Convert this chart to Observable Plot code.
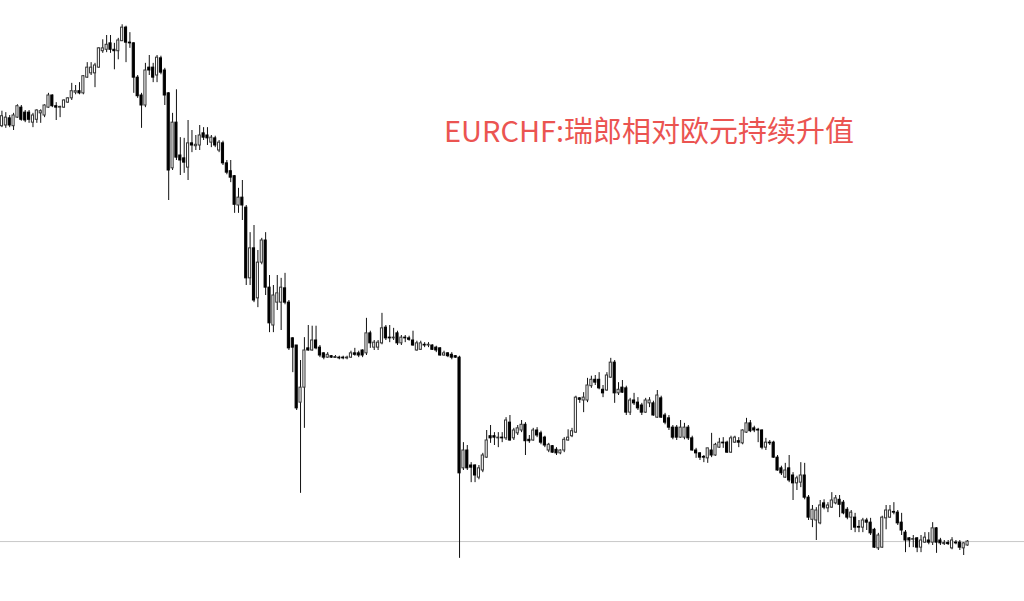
<!DOCTYPE html>
<html>
<head>
<meta charset="utf-8">
<script src="https://cdn.jsdelivr.net/npm/d3@7"></script>
<script src="https://cdn.jsdelivr.net/npm/@observablehq/plot@0.6"></script>
<style>
  html, body { margin: 0; padding: 0; background: #fff; }
  #wrap { position: relative; width: 1024px; height: 601px; overflow: hidden; }
  #title { position: absolute; left: 444px; top: 113px; font-family: "Noto Sans CJK SC", "Noto Sans", sans-serif; font-size: 29px; line-height: 32px; color: #eb5451; white-space: nowrap; }
</style>
</head>
<body>
<div id="wrap"><div id="title">EURCHF:瑞郎相对欧元持续升值</div></div>
<script>
const title = "EURCHF:瑞郎相对欧元持续升值";
// Monthly EURCHF candles, starting 2005-03
const open = [
1.524,1.525,1.535,1.524,1.536,1.550,1.543,1.543,1.529,1.533,
1.542,1.539,1.550,1.567,1.552,1.550,1.550,1.557,1.563,1.571,
1.573,1.570,1.592,1.598,1.598,1.606,1.629,1.631,1.640,1.631,
1.629,1.643,1.662,1.641,1.640,1.592,1.567,1.553,1.606,1.606,
1.595,1.619,1.602,1.570,1.465,1.529,1.483,1.479,1.466,1.500,
1.496,1.497,1.514,1.511,1.501,1.507,1.490,1.500,1.472,1.461,
1.454,1.413,1.424,1.410,1.311,1.353,1.283,1.333,1.364,1.298,
1.245,1.277,1.277,1.297,1.277,1.227,1.217,1.137,1.158,1.213,
1.210,1.224,1.214,1.206,1.200,1.202,1.1995,1.200,1.200,1.199,
1.200,1.206,1.206,1.210,1.206,1.234,1.214,1.214,1.220,1.242,
1.228,1.227,1.234,1.220,1.228,1.227,1.224,1.210,1.211,1.218,
1.217,1.217,1.214,1.213,1.203,1.206,1.204,1.202,1.200,1.045,
1.070,1.049,1.049,1.032,1.042,1.060,1.090,1.090,1.087,1.088,
1.087,1.109,1.087,1.094,1.098,1.106,1.085,1.084,1.098,1.094,
1.088,1.070,1.076,1.071,1.066,1.070,1.084,1.090,1.095,1.143,
1.140,1.140,1.160,1.169,1.169,1.155,1.154,1.172,1.193,1.150,
1.158,1.157,1.123,1.140,1.137,1.133,1.123,1.136,1.136,1.116,
1.143,1.119,1.115,1.102,1.102,1.088,1.088,1.102,1.087,1.070,
1.066,1.061,1.059,1.070,1.063,1.074,1.081,1.081,1.067,1.081,
1.083,1.080,1.095,1.108,1.101,1.099,1.098,1.074,1.081,1.081,
1.060,1.045,1.032,1.045,1.035,1.024,1.025,1.035,1.004,0.973,
0.972,0.968,0.996,0.989,0.990,0.996,1.001,0.997,0.987,0.976,
0.976,0.963,0.962,0.972,0.969,0.959,0.933,0.934,0.975,0.976,
0.984,0.983,0.969,0.955,0.947,0.945,0.947,0.934,0.941,0.944,
0.941,0.961,0.944,0.939,0.9405,0.933,0.941,0.941,0.933,0.937
];
const high = [
1.545,1.543,1.539,1.542,1.554,1.553,1.546,1.546,1.542,1.547,
1.547,1.554,1.570,1.568,1.557,1.552,1.561,1.564,1.584,1.581,
1.585,1.595,1.613,1.613,1.612,1.634,1.645,1.651,1.651,1.640,
1.647,1.666,1.664,1.655,1.641,1.595,1.570,1.612,1.623,1.612,
1.623,1.622,1.605,1.571,1.542,1.575,1.508,1.507,1.532,1.518,
1.511,1.525,1.522,1.522,1.511,1.510,1.504,1.503,1.476,1.476,
1.455,1.437,1.448,1.413,1.375,1.385,1.350,1.367,1.375,1.315,
1.301,1.315,1.311,1.318,1.280,1.228,1.217,1.196,1.228,1.245,
1.244,1.244,1.217,1.207,1.207,1.203,1.203,1.202,1.202,1.202,
1.209,1.213,1.209,1.211,1.255,1.237,1.224,1.224,1.262,1.245,
1.245,1.241,1.237,1.231,1.231,1.230,1.237,1.223,1.223,1.221,
1.221,1.218,1.216,1.214,1.209,1.207,1.207,1.203,1.202,1.081,
1.077,1.053,1.050,1.049,1.066,1.098,1.105,1.095,1.095,1.095,
1.116,1.119,1.101,1.105,1.112,1.109,1.091,1.101,1.102,1.097,
1.090,1.080,1.077,1.074,1.071,1.088,1.099,1.101,1.146,1.144,
1.151,1.171,1.174,1.175,1.179,1.161,1.179,1.199,1.196,1.165,
1.168,1.160,1.143,1.150,1.144,1.136,1.143,1.144,1.139,1.154,
1.146,1.122,1.119,1.105,1.105,1.112,1.108,1.105,1.090,1.073,
1.067,1.063,1.073,1.094,1.080,1.087,1.088,1.083,1.090,1.090,
1.088,1.099,1.115,1.112,1.104,1.101,1.099,1.087,1.084,1.083,
1.063,1.048,1.052,1.063,1.039,1.034,1.053,1.052,1.007,0.993,
0.990,1.000,1.001,0.997,1.011,1.007,1.007,1.000,0.990,0.986,
0.982,0.972,0.975,0.975,0.975,0.961,0.954,0.978,0.993,0.993,
0.997,0.986,0.982,0.958,0.948,0.951,0.948,0.951,0.955,0.955,
0.969,0.962,0.947,0.944,0.944,0.948,0.944,0.944,0.941,0.944
];
const low = [
1.522,1.521,1.522,1.518,1.535,1.531,1.529,1.528,1.522,1.528,
1.528,1.536,1.549,1.550,1.532,1.536,1.549,1.556,1.560,1.568,
1.568,1.568,1.591,1.595,1.578,1.605,1.626,1.627,1.626,1.603,
1.617,1.643,1.613,1.633,1.570,1.563,1.521,1.550,1.595,1.585,
1.585,1.596,1.553,1.420,1.462,1.476,1.455,1.458,1.448,1.487,
1.490,1.490,1.504,1.497,1.494,1.494,1.487,1.469,1.456,1.445,
1.402,1.402,1.392,1.301,1.301,1.277,1.270,1.330,1.287,1.235,
1.235,1.266,1.238,1.274,1.210,1.179,1.126,1.010,1.101,1.209,
1.209,1.211,1.200,1.197,1.199,1.199,1.199,1.197,1.197,1.197,
1.199,1.202,1.200,1.200,1.203,1.213,1.210,1.210,1.218,1.224,
1.221,1.224,1.217,1.217,1.221,1.223,1.216,1.209,1.210,1.214,
1.214,1.210,1.207,1.202,1.202,1.200,1.197,1.199,0.919,1.042,
1.042,1.025,1.025,1.029,1.039,1.059,1.080,1.077,1.074,1.081,
1.084,1.083,1.084,1.091,1.095,1.063,1.080,1.083,1.088,1.078,
1.074,1.067,1.066,1.063,1.064,1.067,1.083,1.088,1.094,1.136,
1.123,1.137,1.157,1.161,1.155,1.144,1.153,1.171,1.136,1.147,
1.150,1.119,1.119,1.133,1.126,1.119,1.122,1.130,1.118,1.115,
1.115,1.106,1.098,1.085,1.084,1.087,1.085,1.084,1.069,1.059,
1.056,1.053,1.052,1.060,1.062,1.073,1.073,1.066,1.066,1.080,
1.074,1.078,1.094,1.095,1.095,1.081,1.071,1.070,1.077,1.059,
1.041,1.035,1.031,1.025,1.000,1.014,1.018,1.001,0.972,0.962,
0.944,0.966,0.987,0.983,0.989,0.994,0.976,0.980,0.973,0.958,
0.955,0.955,0.955,0.958,0.951,0.933,0.930,0.933,0.959,0.975,
0.980,0.965,0.951,0.927,0.934,0.934,0.927,0.927,0.940,0.938,
0.937,0.926,0.937,0.937,0.937,0.931,0.938,0.930,0.923,0.936
];
const close = [
1.538,1.536,1.525,1.539,1.552,1.533,1.532,1.533,1.539,1.546,
1.545,1.553,1.567,1.552,1.550,1.551,1.560,1.563,1.573,1.573,
1.570,1.594,1.606,1.606,1.609,1.633,1.633,1.638,1.631,1.629,
1.644,1.662,1.641,1.640,1.592,1.566,1.553,1.602,1.602,1.592,
1.620,1.599,1.567,1.462,1.529,1.480,1.476,1.473,1.500,1.497,
1.498,1.511,1.508,1.507,1.508,1.497,1.501,1.472,1.459,1.452,
1.414,1.424,1.413,1.311,1.353,1.280,1.333,1.364,1.298,1.248,
1.287,1.290,1.298,1.277,1.213,1.214,1.129,1.158,1.210,1.210,
1.224,1.213,1.203,1.200,1.204,1.200,1.2009,1.199,1.199,1.200,
1.206,1.204,1.203,1.203,1.234,1.220,1.221,1.221,1.241,1.227,
1.227,1.228,1.220,1.228,1.227,1.225,1.217,1.220,1.220,1.217,
1.218,1.211,1.210,1.203,1.206,1.202,1.200,1.200,1.038,1.070,
1.045,1.046,1.035,1.045,1.063,1.084,1.087,1.088,1.088,1.087,
1.112,1.084,1.098,1.101,1.106,1.083,1.083,1.098,1.091,1.081,
1.077,1.078,1.067,1.066,1.070,1.085,1.088,1.097,1.144,1.141,
1.144,1.161,1.169,1.165,1.157,1.150,1.175,1.193,1.150,1.155,
1.151,1.123,1.140,1.136,1.129,1.123,1.140,1.140,1.119,1.147,
1.116,1.109,1.102,1.088,1.088,1.102,1.102,1.087,1.070,1.066,
1.060,1.060,1.073,1.063,1.078,1.081,1.080,1.067,1.087,1.088,
1.081,1.098,1.108,1.097,1.098,1.098,1.074,1.081,1.080,1.060,
1.042,1.038,1.042,1.028,1.024,1.031,1.035,1.004,0.976,0.987,
0.986,0.993,0.990,0.993,1.000,1.003,0.994,0.982,0.976,0.983,
0.962,0.962,0.972,0.969,0.954,0.934,0.951,0.976,0.986,0.986,
0.983,0.968,0.958,0.944,0.944,0.946,0.934,0.944,0.948,0.941,
0.961,0.941,0.940,0.9405,0.939,0.944,0.940,0.934,0.940,0.9425
];

const candles = open.map((o, i) => ({i, open: o, high: high[i], low: low[i], close: close[i]}));
const up = candles.filter(d => d.close >= d.open);
const down = candles.filter(d => d.close < d.open);
const last = close[close.length - 1];

const chart = Plot.plot({
  width: 1024,
  height: 601,
  margin: 0,
  style: {background: "#fff", overflow: "visible"},
  x: {type: "band", domain: d3.range(candles.length), range: [-1.38, 969.87], padding: 0.45, round: false, axis: null},
  y: {domain: [0.8586, 1.70], axis: null},
  marks: [
    Plot.ruleY([last], {stroke: "#c8c8c8", strokeWidth: 1}),
    Plot.ruleX(candles, {x: "i", y1: "low", y2: "high", stroke: "#111", strokeWidth: 1}),
    Plot.barY(up, {x: "i", y1: "open", y2: "close", fill: "#fff", stroke: "#333", strokeWidth: 1}),
    Plot.barY(down, {x: "i", y1: "open", y2: "close", fill: "#000", stroke: "#000", strokeWidth: 1})
  ]
});
document.getElementById("wrap").prepend(chart);
</script>
</body>
</html>
